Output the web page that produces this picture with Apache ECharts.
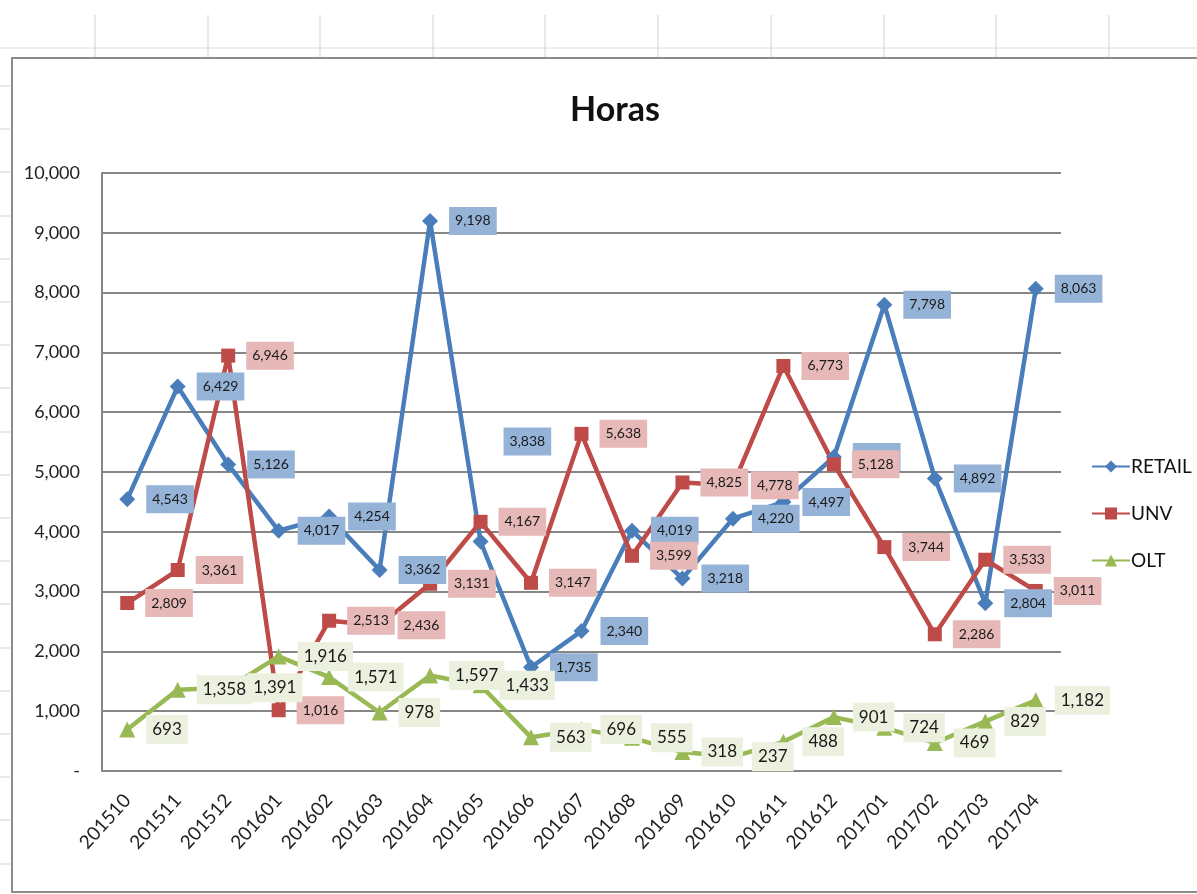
<!DOCTYPE html>
<html>
<head>
<meta charset="utf-8">
<script src="https://cdn.jsdelivr.net/npm/echarts@6/dist/echarts.min.js"></script>
<style>
  html, body { margin: 0; padding: 0; background: #fff; }
  #chart { width: 1197px; height: 894px; }
</style>
</head>
<body>
<div id="chart"></div>
<script>
// datos
var meses = ['201510','201511','201512','201601','201602','201603','201604','201605','201606','201607',
             '201608','201609','201610','201611','201612','201701','201702','201703','201704'];
var retail = [4543, 6429, 5126, 4017, 4254, 3362, 9198, 3838, 1735, 2340, 4019, 3218, 4220, 4497, 5250, 7798, 4892, 2804, 8063];
var unv    = [2809, 3361, 6946, 1016, 2513, 2436, 3131, 4167, 3147, 5638, 3599, 4825, 4778, 6773, 5128, 3744, 2286, 3533, 3011];
var olt    = [693, 1358, 1391, 1916, 1571, 978, 1597, 1433, 563, 696, 555, 318, 237, 488, 901, 724, 469, 829, 1182];

var fuente = 'Lato, sans-serif';
var myChart = echarts.init(document.getElementById('chart'));

function fmt(v) {
    return v.toLocaleString('en-US');
}

function etiqueta(bg, size, pad) {
    return {
        show: true,
        position: 'right',
        distance: 11,
        backgroundColor: bg,
        padding: pad,
        color: '#1a1a1a',
        fontFamily: fuente,
        fontSize: size,
        formatter: function (p) { return fmt(p.value); }
    };
}

// la etiqueta de 201605 (RETAIL) esta desplazada hacia arriba en el original
var retailData = retail.map(function (v, i) {
    if (meses[i] === '201605') {
        return { value: v, label: { offset: [4, -100] } };
    }
    return v;
});

// lineas de la hoja de calculo detras del grafico
var fondo = [];
[95, 208, 320, 433, 545, 658, 771, 884, 996, 1109].forEach(function (x) {
    fondo.push({ type: 'line', shape: { x1: x, y1: 15, x2: x, y2: 58 }, style: { stroke: '#d0d0d0', lineWidth: 1 } });
});
fondo.push({ type: 'line', shape: { x1: 0, y1: 48, x2: 1197, y2: 48 }, style: { stroke: '#dcdcdc', lineWidth: 1 } });
for (var y = 86; y < 894; y += 43.2) {
    fondo.push({ type: 'line', shape: { x1: 0, y1: Math.round(y), x2: 10, y2: Math.round(y) }, style: { stroke: '#d0d0d0', lineWidth: 1 } });
}
fondo.push({ type: 'rect', shape: { x: 12, y: 58, width: 1200, height: 834 }, style: { fill: 'none', stroke: '#8c8c8c', lineWidth: 2 } });

var option = {
    backgroundColor: '#ffffff',
    animation: false,
    graphic: fondo,
    title: {
        text: 'Horas',
        left: 565,
        top: 88,
        textStyle: { fontFamily: fuente, fontSize: 34, fontWeight: 'bold', color: '#111' }
    },
    legend: {
        orient: 'vertical',
        left: 1086,
        top: 452,
        itemGap: 28,
        itemWidth: 38,
        itemHeight: 15,
        textStyle: { fontFamily: fuente, fontSize: 19, color: '#111', padding: [0, 0, 0, -4] },
        data: ['RETAIL', 'UNV', 'OLT']
    },
    grid: { left: 102, right: 136, top: 173, bottom: 123 },
    xAxis: {
        type: 'category',
        data: meses,
        boundaryGap: true,
        axisLine: { lineStyle: { color: '#868686', width: 2 } },
        axisTick: { show: false },
        axisLabel: { rotate: 48, margin: 26, fontFamily: fuente, fontSize: 19, color: '#222', interval: 0 }
    },
    yAxis: {
        type: 'value',
        min: 0,
        max: 10000,
        interval: 1000,
        axisLine: { show: true, lineStyle: { color: '#868686', width: 2 } },
        axisTick: { show: false },
        splitLine: { lineStyle: { color: '#868686', width: 2 } },
        axisLabel: {
            margin: 22,
            fontFamily: fuente,
            fontSize: 18,
            color: '#222',
            formatter: function (v) { return v === 0 ? '-' : fmt(v); }
        }
    },
    series: [{
        name: 'RETAIL',
        type: 'line',
        data: retailData,
        symbol: 'diamond',
        symbolSize: 16,
        itemStyle: { color: '#4A7EBB' },
        lineStyle: { width: 4.5, color: '#4A7EBB' },
        label: etiqueta('#95B3D7', 14, [7, 6]),
        z: 3
    }, {
        name: 'UNV',
        type: 'line',
        data: unv,
        symbol: 'rect',
        symbolSize: 14,
        itemStyle: { color: '#BE4B48' },
        lineStyle: { width: 4.5, color: '#BE4B48' },
        label: etiqueta('#E6B9B8', 14, [7, 6]),
        z: 3
    }, {
        name: 'OLT',
        type: 'line',
        data: olt,
        symbol: 'triangle',
        symbolSize: 16,
        itemStyle: { color: '#98B954' },
        lineStyle: { width: 4.5, color: '#98B954' },
        label: etiqueta('#EBF1DE', 17, [6, 6]),
        z: 3
    }]
};

myChart.setOption(option);
</script>
</body>
</html>
